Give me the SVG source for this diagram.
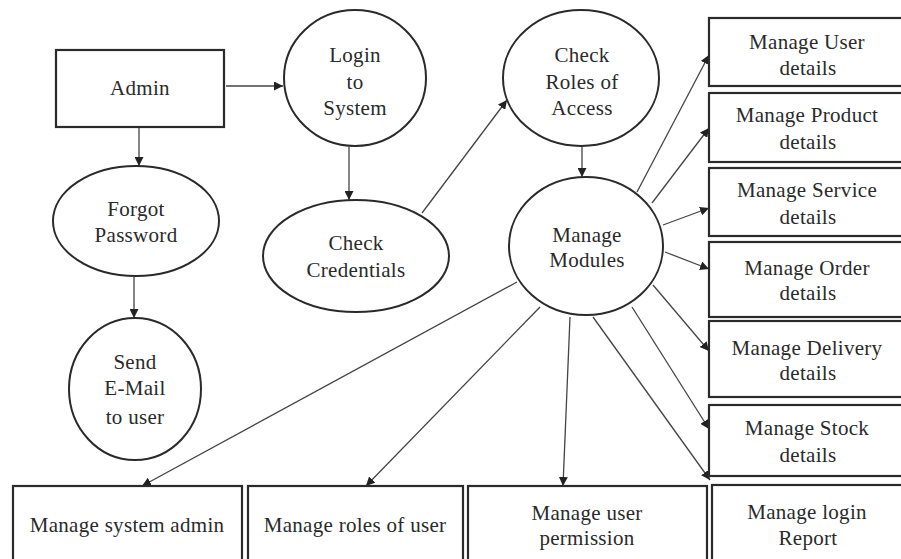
<svg xmlns="http://www.w3.org/2000/svg" width="901" height="559" viewBox="0 0 901 559">
<defs>
<style>
.box{fill:#fff;stroke:#2a2a2a;stroke-width:2.2}
.ell{fill:#fff;stroke:#2a2a2a;stroke-width:2}
.t{font-family:"Liberation Serif","Times New Roman",serif;font-size:21px;letter-spacing:0.3px;fill:#2a2a2a;text-anchor:middle}
.c{stroke:#444;stroke-width:1.3;fill:none;marker-end:url(#ah)}
</style>
<marker id="ah" viewBox="0 0 10 10" refX="10" refY="5" markerWidth="9" markerHeight="9" markerUnits="userSpaceOnUse" orient="auto">
<path d="M0,0 L10,5 L0,10 z" fill="#222"/>
</marker>
</defs>
<rect width="901" height="559" fill="#fff"/>
<g id="connectors">
<line class="c" x1="226" y1="86" x2="283" y2="86"/>
<line class="c" x1="139" y1="127" x2="139" y2="166"/>
<line class="c" x1="134" y1="277" x2="134" y2="318"/>
<line class="c" x1="349" y1="147" x2="349" y2="200"/>
<line class="c" x1="422" y1="213" x2="507" y2="100"/>
<line class="c" x1="582" y1="147" x2="582" y2="177"/>
<line class="c" x1="637" y1="192" x2="709" y2="55"/>
<line class="c" x1="652" y1="203" x2="709" y2="128"/>
<line class="c" x1="663" y1="225" x2="709" y2="208"/>
<line class="c" x1="665" y1="252" x2="709" y2="269"/>
<line class="c" x1="653" y1="285" x2="709" y2="351"/>
<line class="c" x1="632" y1="307" x2="709" y2="429"/>
<line class="c" x1="593" y1="317" x2="710" y2="480"/>
<line class="c" x1="570" y1="317" x2="563" y2="486"/>
<line class="c" x1="540" y1="307" x2="366" y2="486"/>
<line class="c" x1="517" y1="282" x2="142" y2="486"/>
</g>
<g id="admin"><rect class="box" x="56" y="50" width="168" height="77"/><text class="t" x="140" y="95">Admin</text></g>
<g id="login"><ellipse class="ell" cx="355" cy="78" rx="71" ry="68"/><text class="t" x="355" y="62">Login</text><text class="t" x="355" y="89">to</text><text class="t" x="355" y="115">System</text></g>
<g id="forgot"><ellipse class="ell" cx="136" cy="221" rx="83" ry="55"/><text class="t" x="136" y="216">Forgot</text><text class="t" x="136" y="242">Password</text></g>
<g id="credentials"><ellipse class="ell" cx="356" cy="256" rx="93" ry="56"/><text class="t" x="356" y="250">Check</text><text class="t" x="356" y="277">Credentials</text></g>
<g id="email"><ellipse class="ell" cx="135" cy="389" rx="66" ry="71"/><text class="t" x="135" y="369">Send</text><text class="t" x="135" y="395">E-Mail</text><text class="t" x="135" y="424">to user</text></g>
<g id="roles"><ellipse class="ell" cx="581" cy="78" rx="78" ry="68"/><text class="t" x="582" y="62">Check</text><text class="t" x="582" y="89">Roles of</text><text class="t" x="582" y="115">Access</text></g>
<g id="modules"><ellipse class="ell" cx="586" cy="246" rx="77" ry="69"/><text class="t" x="587" y="242">Manage</text><text class="t" x="587" y="267">Modules</text></g>
<g id="user-details"><rect class="box" x="709" y="18" width="200" height="68"/><text class="t" x="807" y="49">Manage User</text><text class="t" x="808" y="75">details</text></g>
<g id="product-details"><rect class="box" x="709" y="93" width="200" height="69"/><text class="t" x="807" y="122">Manage Product</text><text class="t" x="808" y="149">details</text></g>
<g id="service-details"><rect class="box" x="709" y="168" width="200" height="68"/><text class="t" x="807" y="197">Manage Service</text><text class="t" x="808" y="224">details</text></g>
<g id="order-details"><rect class="box" x="709" y="242" width="200" height="75"/><text class="t" x="807" y="275">Manage Order</text><text class="t" x="808" y="300">details</text></g>
<g id="delivery-details"><rect class="box" x="709" y="321" width="200" height="76"/><text class="t" x="807" y="355">Manage Delivery</text><text class="t" x="808" y="380">details</text></g>
<g id="stock-details"><rect class="box" x="709" y="405" width="200" height="71"/><text class="t" x="807" y="435">Manage Stock</text><text class="t" x="808" y="462">details</text></g>
<g id="login-report"><rect class="box" x="712" y="485" width="200" height="90"/><text class="t" x="807" y="519">Manage login</text><text class="t" x="808" y="545">Report</text></g>
<g id="system-admin"><rect class="box" x="13" y="486" width="229" height="90"/><text class="t" x="127" y="532">Manage system admin</text></g>
<g id="roles-of-user"><rect class="box" x="248" y="486" width="215" height="90"/><text class="t" x="355" y="532">Manage roles of user</text></g>
<g id="user-permission"><rect class="box" x="468" y="486" width="239" height="90"/><text class="t" x="587" y="520">Manage user</text><text class="t" x="587" y="545">permission</text></g>
</svg>
